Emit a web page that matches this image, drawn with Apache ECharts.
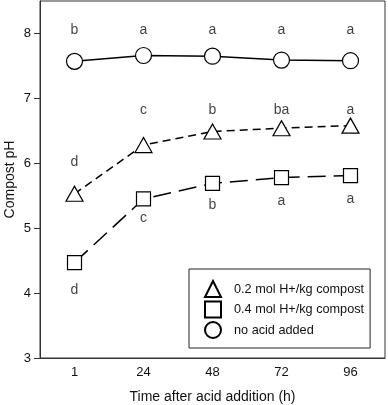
<!DOCTYPE html>
<html>
<head>
<meta charset="utf-8">
<script src="https://cdn.jsdelivr.net/npm/echarts@6/dist/echarts.min.js"></script>
<style>
  html, body { margin: 0; padding: 0; background: #fff; }
  #chart { width: 388px; height: 405px; }
</style>
</head>
<body>
<div id="chart"></div>
<script>
// 取样时间 (h)
const hours = ['1', '24', '48', '72', '96'];

// 堆肥 pH
const acid02 = [5.53, 6.28, 6.49, 6.54, 6.58];
const acid04 = [4.47, 5.45, 5.69, 5.78, 5.81];
const noAcid = [7.57, 7.66, 7.65, 7.59, 7.58];

// 显著性字母及其所在的 pH 高度
const acid02Letters = ['d', 'c', 'b', 'ba', 'a'];
const acid02LetterY = [6.02, 6.82, 6.82, 6.82, 6.82];
const acid04Letters = ['d', 'c', 'b', 'a', 'a'];
const acid04LetterY = [4.05, 5.15, 5.36, 5.41, 5.44];
const noAcidLetters = ['b', 'a', 'a', 'a', 'a'];
const noAcidLetterY = [8.05, 8.05, 8.05, 8.05, 8.05];

const yTicks = [3, 4, 5, 6, 7, 8];

const FONT = '"Liberation Sans", Arial, sans-serif';

const chart = echarts.init(document.getElementById('chart'));

const hollow = {
  color: '#fff',
  borderColor: '#000',
  borderWidth: 1.2,
};

const letterSeries = (letters, ys) => ({
  type: 'scatter',
  symbolSize: 1,
  itemStyle: { color: 'transparent' },
  silent: true,
  z: 5,
  label: {
    show: true,
    position: 'inside',
    color: '#111',
    fontSize: 14,
    fontFamily: FONT,
    formatter: (p) => letters[p.dataIndex],
  },
  data: ys,
});

const option = {
  animation: false,
  textStyle: { fontFamily: FONT },
  grid: {
    left: 40,
    right: 3,
    top: 1,
    bottom: 47,
    outerBoundsMode: 'none',
    show: true,
    borderColor: '#333',
    borderWidth: 1,
  },
  xAxis: {
    type: 'category',
    data: hours,
    boundaryGap: true,
    name: 'Time after acid addition (h)',
    nameLocation: 'middle',
    nameGap: 32,
    nameMoveOverlap: false,
    nameTextStyle: { fontSize: 14, color: '#111', fontFamily: FONT },
    axisLine: { lineStyle: { color: '#333', width: 1 } },
    axisTick: { alignWithLabel: true, length: 6, lineStyle: { color: '#333' } },
    axisLabel: { fontSize: 13, color: '#111', margin: 8, fontFamily: FONT },
    splitLine: { show: false },
  },
  yAxis: {
    type: 'value',
    min: 3,
    max: 8.5,
    name: 'Compost pH',
    nameLocation: 'middle',
    nameGap: 23,
    nameMoveOverlap: false,
    nameTextStyle: { fontSize: 14, color: '#111', fontFamily: FONT },
    axisLine: { show: true, lineStyle: { color: '#333', width: 1 } },
    axisTick: { show: true, length: 6, customValues: yTicks, lineStyle: { color: '#333' } },
    axisLabel: {
      fontSize: 13,
      color: '#111',
      margin: 9,
      fontFamily: FONT,
      customValues: yTicks,
    },
    splitLine: { show: false },
  },
  legend: {
    orient: 'vertical',
    left: 189,
    top: 269,
    padding: [11, 6, 9, 15],
    itemWidth: 16,
    itemHeight: 16,
    itemGap: 2.5,
    borderColor: '#222',
    borderWidth: 1,
    backgroundColor: '#fff',
    textStyle: { fontSize: 12.7, color: '#111', fontFamily: FONT, padding: [0, 0, 0, 8] },
    data: [
      { name: '0.2 mol H+/kg compost', icon: 'triangle' },
      { name: '0.4 mol H+/kg compost', icon: 'rect' },
      { name: 'no acid added', icon: 'circle' },
    ],
  },
  series: [
    {
      name: '0.2 mol H+/kg compost',
      type: 'line',
      symbol: 'triangle',
      symbolSize: [17, 15],
      itemStyle: hollow,
      lineStyle: { color: '#000', width: 1.5, type: [8, 5] },
      z: 3,
      data: acid02,
    },
    {
      name: '0.4 mol H+/kg compost',
      type: 'line',
      symbol: 'rect',
      symbolSize: 14,
      itemStyle: hollow,
      lineStyle: { color: '#000', width: 1.5, type: [18, 8] },
      z: 3,
      data: acid04,
    },
    {
      name: 'no acid added',
      type: 'line',
      symbol: 'circle',
      symbolSize: 16,
      itemStyle: hollow,
      lineStyle: { color: '#000', width: 1.5 },
      z: 3,
      data: noAcid,
    },
    letterSeries(acid02Letters, acid02LetterY),
    letterSeries(acid04Letters, acid04LetterY),
    letterSeries(noAcidLetters, noAcidLetterY),
  ],
};

chart.setOption(option);
</script>
</body>
</html>
